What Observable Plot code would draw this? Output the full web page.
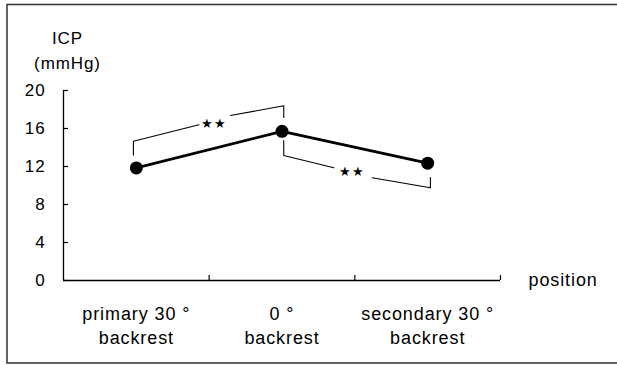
<!DOCTYPE html>
<html><head><meta charset="utf-8">
<script src="https://cdn.jsdelivr.net/npm/d3@7"></script>
<script src="https://cdn.jsdelivr.net/npm/@observablehq/plot@0.6"></script>
<style>body{margin:0;background:#fff} #chart svg text{letter-spacing:0.9px}</style>
</head><body><div id="chart"></div>
<script>
// Categories and values
const positions = ["primary 30 °\nbackrest", "0 °\nbackrest", "secondary 30 °\nbackrest"];
const icp = [11.85, 15.7, 12.35];
const yTicks = [0, 4, 8, 12, 16, 20];
const categoryBoundaries = [0.5, 1.5, 2.5];
// significance brackets (x in category index units, y in mmHg)
const bracketX   = [-0.02, -0.02, 0.43,   0.646, 1.012, 1.012,   1.012, 1.012, 1.356,   1.619, 2.019, 2.019];
const bracketY   = [13.2, 14.66, 16.39,   17.37, 18.39, 17.16,   14.74, 13.16, 11.86,   10.81, 9.76, 10.84];
const bracketSeg = ["a","a","a", "b","b","b", "c","c","c", "d","d","d"];
const starX = [0.53, 1.48];
const starY = [16.5, 11.4];
const starText = ["★★", "★★"];

const rows = positions.map((p, i) => ({i, label: p, icp: icp[i]}));
const bracketRows = bracketX.map((x, k) => ({x, y: bracketY[k], seg: bracketSeg[k]}));
const starRows = starX.map((x, k) => ({x, y: starY[k], t: starText[k]}));

const chart = Plot.plot({
  width: 617,
  height: 365,
  marginLeft: 63,
  marginRight: 117,
  marginTop: 90,
  marginBottom: 85,
  style: {fontFamily: "'Liberation Sans', Arial, sans-serif", fontSize: "17px", color: "#000", background: "#fff", overflow: "visible"},
  x: {domain: [-0.5, 2.5], axis: null},
  y: {domain: [0, 20], ticks: yTicks, tickSize: 0, tickPadding: 18, label: null},
  marks: [
    Plot.ruleY([0], {stroke: "#000", strokeWidth: 1.3}),
    Plot.ruleX([-0.5], {stroke: "#000", strokeWidth: 1.3}),
    Plot.ruleY(yTicks, {x1: -0.5, x2: -0.5, insetRight: -5, stroke: "#000", strokeWidth: 1.2}),
    Plot.ruleX(categoryBoundaries, {y1: 0, y2: 0, insetBottom: 5, stroke: "#000", strokeWidth: 1.2}),
    Plot.line(bracketRows, {x: "x", y: "y", z: "seg", stroke: "#000", strokeWidth: 1.1}),
    Plot.text(starRows, {x: "x", y: "y", text: "t", fontSize: 13, fill: "#000"}),
    Plot.line(rows, {x: "i", y: "icp", stroke: "#000", strokeWidth: 2.8}),
    Plot.dot(rows, {x: "i", y: "icp", r: 6.5, fill: "#000", stroke: "none"}),
    Plot.text(rows, {x: "i", frameAnchor: "bottom", text: "label", dy: 22, lineAnchor: "top", fontSize: 18, lineHeight: 1.35, fill: "#000"}),
    Plot.text(["position"], {x: 2.5, frameAnchor: "bottom", text: d => d, dx: 28, textAnchor: "start", lineAnchor: "middle", fontSize: 18, fill: "#000"}),
    Plot.text(["ICP\n(mmHg)"], {x: -0.5, frameAnchor: "top", text: d => d, dx: 4, dy: -65, lineAnchor: "top", lineHeight: 1.5, fontSize: 17, fill: "#000"})
  ]
});
document.getElementById("chart").appendChild(chart);

// scanned figure border (left, top, bottom)
const svg = d3.select(chart);
svg.append("path")
  .attr("d", "M617,4.5H7V363H617")
  .attr("fill", "none")
  .attr("stroke", "#333")
  .attr("stroke-width", 1.5);
</script>
</body></html>
